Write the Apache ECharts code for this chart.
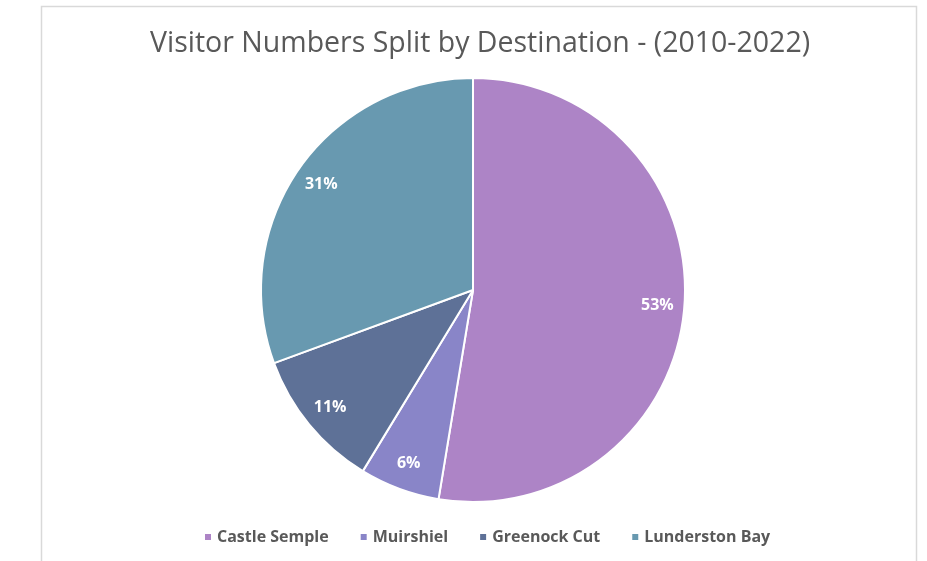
<!DOCTYPE html>
<html>
<head>
<meta charset="utf-8">
<script src="https://cdn.jsdelivr.net/npm/echarts@6/dist/echarts.min.js"></script>
<style>
  html, body { margin: 0; padding: 0; background: #fff; }
  #chart { width: 927px; height: 561px; }
</style>
</head>
<body>
<div id="chart"></div>
<script>
  // visitor share per destination (percent)
  const destinations = ['Castle Semple', 'Muirshiel', 'Greenock Cut', 'Lunderston Bay'];
  const shares = [52.6, 6.1, 10.7, 30.6];
  const colors = ['#AD84C6', '#8985C8', '#5E7197', '#6899B0'];

  const pieData = destinations.map((name, i) => ({ name: name, value: shares[i] }));

  const chart = echarts.init(document.getElementById('chart'));
  chart.setOption({
    animation: false,
    color: colors,
    title: {
      text: 'Visitor Numbers Split by Destination - (2010-2022)',
      left: 145,
      top: 24,
      textStyle: { fontFamily: 'Open Sans', fontWeight: 'normal', fontSize: 28.5, color: '#595959' }
    },
    legend: {
      bottom: 11,
      left: 198,
      itemWidth: 8,
      itemHeight: 8,
      itemGap: 30,
      icon: 'rect',
      textStyle: { fontFamily: 'Open Sans', fontWeight: 'bold', fontSize: 16, color: '#595959' },
      data: destinations
    },
    graphic: [{
      type: 'rect',
      shape: { x: 41.5, y: 6.5, width: 875, height: 600 },
      style: { fill: 'none', stroke: '#d9d9d9', lineWidth: 1.5 },
      silent: true
    }],
    series: [
      {
        type: 'pie',
        center: [473, 290],
        radius: 212,
        startAngle: 90,
        data: pieData,
        itemStyle: { borderColor: '#fff', borderWidth: 2 },
        label: { show: false },
        labelLine: { show: false }
      },
      {
        // invisible ring carrying the percentage labels near the rim
        type: 'pie',
        center: [473, 290],
        radius: [152, 212],
        startAngle: 90,
        silent: true,
        data: pieData,
        itemStyle: { color: 'transparent' },
        label: {
          show: true,
          position: 'inside',
          formatter: p => Math.round(p.percent) + '%',
          fontFamily: 'Open Sans',
          fontWeight: 'bold',
          fontSize: 16,
          color: '#fff'
        },
        labelLine: { show: false },
        legendHoverLink: false
      }
    ]
  });
</script>
</body>
</html>
